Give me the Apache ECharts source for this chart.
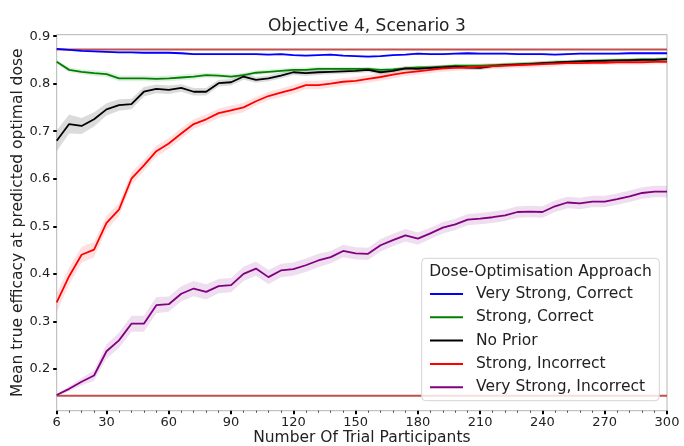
<!DOCTYPE html>
<html><head><meta charset="utf-8">
<script src="https://cdn.jsdelivr.net/npm/echarts@6/dist/echarts.min.js"></script>
<style>html,body{margin:0;padding:0;background:#fff}#c{width:684px;height:446px}</style>
</head><body><div id="c"></div>
<script>
const participants = [6,12,18,24,30,36,42,48,54,60,66,72,78,84,90,96,102,108,114,120,126,132,138,144,150,156,162,168,174,180,186,192,198,204,210,216,222,228,234,240,246,252,258,264,270,276,282,288,294,300];

const veryStrongCorrect = [0.873,0.871,0.869,0.868,0.867,0.866,0.866,0.865,0.865,0.865,0.864,0.862,0.862,0.862,0.862,0.862,0.862,0.861,0.862,0.860,0.859,0.860,0.861,0.859,0.858,0.857,0.858,0.860,0.861,0.863,0.862,0.862,0.863,0.864,0.863,0.863,0.863,0.862,0.862,0.862,0.861,0.862,0.863,0.863,0.863,0.863,0.864,0.864,0.864,0.864];
const strongCorrect = [0.846,0.829,0.825,0.822,0.820,0.811,0.811,0.811,0.810,0.811,0.813,0.815,0.818,0.817,0.815,0.818,0.823,0.825,0.827,0.829,0.829,0.831,0.831,0.831,0.831,0.831,0.829,0.830,0.832,0.834,0.834,0.836,0.838,0.838,0.838,0.839,0.840,0.841,0.842,0.843,0.845,0.846,0.847,0.848,0.849,0.849,0.850,0.851,0.851,0.852];
const noPrior = [0.680,0.715,0.711,0.725,0.746,0.755,0.757,0.783,0.789,0.787,0.791,0.783,0.783,0.801,0.803,0.815,0.808,0.811,0.817,0.824,0.822,0.824,0.825,0.826,0.827,0.829,0.824,0.827,0.832,0.831,0.833,0.834,0.836,0.834,0.833,0.837,0.839,0.840,0.841,0.843,0.844,0.846,0.847,0.848,0.848,0.849,0.849,0.850,0.850,0.851];
const strongIncorrect = [0.340,0.395,0.440,0.451,0.507,0.535,0.600,0.628,0.658,0.674,0.695,0.715,0.725,0.738,0.744,0.750,0.763,0.774,0.781,0.788,0.797,0.797,0.800,0.804,0.806,0.810,0.814,0.819,0.823,0.826,0.829,0.832,0.833,0.834,0.836,0.837,0.838,0.839,0.840,0.841,0.842,0.843,0.843,0.844,0.844,0.845,0.845,0.845,0.846,0.846];
const veryStrongIncorrect = [0.145,0.158,0.173,0.186,0.237,0.260,0.295,0.295,0.334,0.336,0.358,0.369,0.362,0.374,0.376,0.400,0.411,0.393,0.407,0.410,0.418,0.428,0.435,0.448,0.443,0.442,0.460,0.471,0.481,0.474,0.485,0.497,0.504,0.514,0.516,0.519,0.523,0.530,0.531,0.530,0.542,0.550,0.548,0.552,0.552,0.557,0.563,0.570,0.573,0.573];

// half-widths of the shaded uncertainty bands
const bandVeryStrongCorrect = [0.002,0.002,0.002,0.002,0.002,0.002,0.002,0.002,0.002,0.002,0.002,0.002,0.002,0.002,0.002,0.002,0.002,0.002,0.002,0.002,0.002,0.002,0.002,0.002,0.002,0.002,0.002,0.002,0.002,0.002,0.002,0.002,0.002,0.002,0.002,0.002,0.002,0.002,0.002,0.002,0.002,0.002,0.002,0.002,0.002,0.002,0.002,0.002,0.002,0.002];
const bandStrongCorrect = [0.004,0.005,0.005,0.006,0.006,0.006,0.006,0.006,0.006,0.006,0.006,0.006,0.005,0.005,0.005,0.005,0.005,0.005,0.005,0.005,0.005,0.005,0.004,0.004,0.004,0.004,0.004,0.004,0.004,0.004,0.004,0.004,0.004,0.004,0.004,0.004,0.004,0.004,0.004,0.004,0.004,0.004,0.004,0.004,0.004,0.004,0.004,0.004,0.004,0.004];
const bandNoPrior = [0.022,0.020,0.017,0.015,0.013,0.012,0.011,0.010,0.009,0.009,0.008,0.008,0.008,0.007,0.007,0.007,0.006,0.006,0.006,0.006,0.006,0.006,0.005,0.005,0.005,0.005,0.005,0.005,0.005,0.005,0.005,0.005,0.004,0.004,0.004,0.004,0.004,0.004,0.004,0.004,0.004,0.004,0.004,0.004,0.004,0.004,0.004,0.004,0.004,0.004];
const bandStrongIncorrect = [0.020,0.018,0.017,0.016,0.015,0.014,0.013,0.012,0.012,0.011,0.011,0.010,0.010,0.010,0.010,0.010,0.009,0.009,0.009,0.009,0.009,0.009,0.008,0.008,0.008,0.008,0.008,0.008,0.007,0.007,0.007,0.007,0.006,0.006,0.006,0.006,0.006,0.006,0.006,0.006,0.006,0.005,0.005,0.005,0.005,0.005,0.005,0.005,0.005,0.005];
const bandVeryStrongIncorrect = [0.002,0.005,0.008,0.011,0.015,0.016,0.017,0.017,0.017,0.016,0.016,0.016,0.016,0.015,0.015,0.015,0.015,0.015,0.014,0.014,0.014,0.014,0.013,0.013,0.013,0.013,0.013,0.013,0.013,0.013,0.012,0.012,0.012,0.012,0.012,0.012,0.012,0.012,0.012,0.012,0.012,0.012,0.012,0.012,0.012,0.012,0.012,0.012,0.012,0.012];

const optimalEfficacy = 0.872;
const lowestEfficacy = 0.1436;
const xTickLabels = [6,30,60,90,120,150,180,210,240,270,300];
const yTickLabels = [0.2,0.3,0.4,0.5,0.6,0.7,0.8,0.9];

const groups = [
  {name:'Very Strong, Correct', color:'#0000ff', band:'rgba(0,0,255,0.13)', v:veryStrongCorrect, h:bandVeryStrongCorrect},
  {name:'Strong, Correct', color:'#008000', band:'rgba(0,128,0,0.12)', v:strongCorrect, h:bandStrongCorrect},
  {name:'No Prior', color:'#000000', band:'rgba(0,0,0,0.14)', v:noPrior, h:bandNoPrior},
  {name:'Strong, Incorrect', color:'#ff0000', band:'rgba(255,0,0,0.12)', v:strongIncorrect, h:bandStrongIncorrect},
  {name:'Very Strong, Incorrect', color:'#800080', band:'rgba(128,0,128,0.13)', v:veryStrongIncorrect, h:bandVeryStrongIncorrect}
];

const series = [];
groups.forEach((g) => {
  const lo = participants.map((n,i)=>[n, g.v[i]-g.h[i]]);
  const hi = participants.map((n,i)=>[n, g.v[i]+g.h[i]]);
  series.push({type:'custom', silent:true, z:1, clip:true,
    data:[[participants[0], g.v[0]]],
    renderItem:(params, api) => {
      const pts = hi.map(p => api.coord(p)).concat(lo.slice().reverse().map(p => api.coord(p)));
      return {type:'polygon', shape:{points:pts}, style:{fill:g.band, stroke:null}};
    }});
});
const refColor = '#c0504d';
series.push({type:'line', symbol:'none', silent:true, z:2, lineStyle:{color:refColor, width:2},
  data:[[participants[0], optimalEfficacy],[participants[participants.length-1], optimalEfficacy]]});
series.push({type:'line', symbol:'none', silent:true, z:2, lineStyle:{color:refColor, width:2},
  data:[[participants[0], lowestEfficacy],[participants[participants.length-1], lowestEfficacy]]});
groups.forEach(g => {
  series.push({type:'line', name:g.name, symbol:'none', z:3, color:g.color,
    lineStyle:{color:g.color, width:1.8},
    data: participants.map((n,i)=>[n, g.v[i]])});
});

const minorTicks = participants.filter(n => xTickLabels.indexOf(n) < 0);
const font = 'DejaVu Sans';
const gridL = 56.7, gridT = 34.7, gridR = 667, gridB = 410.7;

const chart = echarts.init(document.getElementById('c'), null, {renderer:'canvas'});
chart.setOption({
  animation:false,
  backgroundColor:'#fff',
  title:{text:'Objective 4, Scenario 3', left:(gridL+gridR)/2, top:13, textAlign:'center',
    textStyle:{fontFamily:font, fontSize:17, fontWeight:'normal', color:'#222'}},
  grid:{left:gridL, top:gridT, right:684-gridR, bottom:446-gridB, show:true, borderColor:'#b5b5b5', borderWidth:1, outerBoundsMode:'none'},
  xAxis:[{
    type:'value', min:6, max:300,
    name:'Number Of Trial Participants', nameLocation:'middle', nameGap:19, nameMoveOverlap:false,
    nameTextStyle:{fontFamily:font, fontSize:15.5, color:'#222', verticalAlign:'top'},
    axisLine:{show:false},
    axisTick:{show:true, length:3.5, customValues:xTickLabels, lineStyle:{color:'#000', width:2}},
    axisLabel:{customValues:xTickLabels, margin:5, fontFamily:font, fontSize:13, color:'#222'},
    splitLine:{show:false}
  },{
    type:'value', min:6, max:300, position:'bottom',
    axisLine:{show:false},
    axisTick:{show:true, length:2, customValues:minorTicks, lineStyle:{color:'#444', width:1}},
    axisLabel:{show:false, customValues:minorTicks},
    splitLine:{show:false}
  }],
  yAxis:{
    type:'value', min:0.112, max:0.903,
    name:'Mean true efficacy at predicted optimal dose', nameLocation:'middle', nameGap:31, nameMoveOverlap:false,
    nameTextStyle:{fontFamily:font, fontSize:15.5, color:'#222'},
    axisLine:{show:false},
    axisTick:{show:true, length:3.5, customValues:yTickLabels, lineStyle:{color:'#000', width:2}},
    axisLabel:{customValues:yTickLabels, margin:6.5, fontFamily:font, fontSize:13, color:'#222',
      formatter:v => v.toFixed(1)},
    splitLine:{show:false}
  },
  legend:{
    orient:'vertical', left:430, top:285, padding:0, itemGap:5.3,
    itemWidth:33, itemHeight:2, icon:'rect',
    data:groups.map(g=>g.name),
    textStyle:{fontFamily:font, fontSize:15.5, color:'#222', lineHeight:18, padding:[0,0,0,8]},
    selectedMode:false, z:10
  },
  graphic:[
    {type:'rect', z:5, shape:{x:421.7, y:258.3, width:237.6, height:142.4, r:4},
      style:{fill:'rgba(255,255,255,0.82)', stroke:'#d4d4d4', lineWidth:1}},
    {type:'text', z:11, x:540.5, y:271.7, style:{text:'Dose-Optimisation Approach', fontFamily:font, fontSize:15.5,
      fill:'#222', align:'center', verticalAlign:'middle'}}
  ],
  series:series
});
</script>
</body></html>
